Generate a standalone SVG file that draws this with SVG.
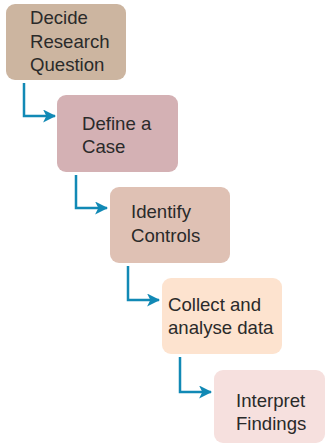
<svg xmlns="http://www.w3.org/2000/svg" width="329" height="444" viewBox="0 0 329 444">
<defs>
<marker id="ah" viewBox="0 0 12 12" refX="11" refY="6" markerWidth="13" markerHeight="13" markerUnits="userSpaceOnUse" orient="auto">
<path d="M0,0 L12,6 L0,12 L3,6 Z" fill="#1189b5"/>
</marker>
</defs>
<style>
.box{stroke:none}
.t{font-family:"Liberation Sans",Arial,sans-serif;font-size:18.6px;fill:#2a2a2a}
.c{fill:none;stroke:#1189b5;stroke-width:2.5}
</style>
<rect width="329" height="444" fill="#ffffff"/>
<g id="connectors">
<path class="c" d="M24,83 V116 H55" marker-end="url(#ah)"/>
<path class="c" d="M76,175 V208 H107" marker-end="url(#ah)"/>
<path class="c" d="M128,266 V300 H159" marker-end="url(#ah)"/>
<path class="c" d="M180,357 V392 H211" marker-end="url(#ah)"/>
</g>
<g id="n1">
<rect class="box" x="6" y="4" width="120" height="76" rx="9" fill="#ccb5a0"/>
<text class="t" x="30" y="24">Decide</text>
<text class="t" x="30" y="48">Research</text>
<text class="t" x="30" y="71">Question</text>
</g>
<g id="n2">
<rect class="box" x="57" y="95" width="121" height="77" rx="9" fill="#d4b1b4"/>
<text class="t" x="82" y="130">Define a</text>
<text class="t" x="82" y="153">Case</text>
</g>
<g id="n3">
<rect class="box" x="110" y="187" width="120" height="76" rx="9" fill="#dfc1b4"/>
<text class="t" x="131" y="218">Identify</text>
<text class="t" x="131" y="242">Controls</text>
</g>
<g id="n4">
<rect class="box" x="162" y="278" width="120" height="76" rx="9" fill="#fde3cf"/>
<text class="t" x="168" y="311">Collect and</text>
<text class="t" x="168" y="334">analyse data</text>
</g>
<g id="n5">
<rect class="box" x="214" y="370" width="111" height="73" rx="9" fill="#f6e0de"/>
<text class="t" x="236" y="407">Interpret</text>
<text class="t" x="236" y="430">Findings</text>
</g>
</svg>
